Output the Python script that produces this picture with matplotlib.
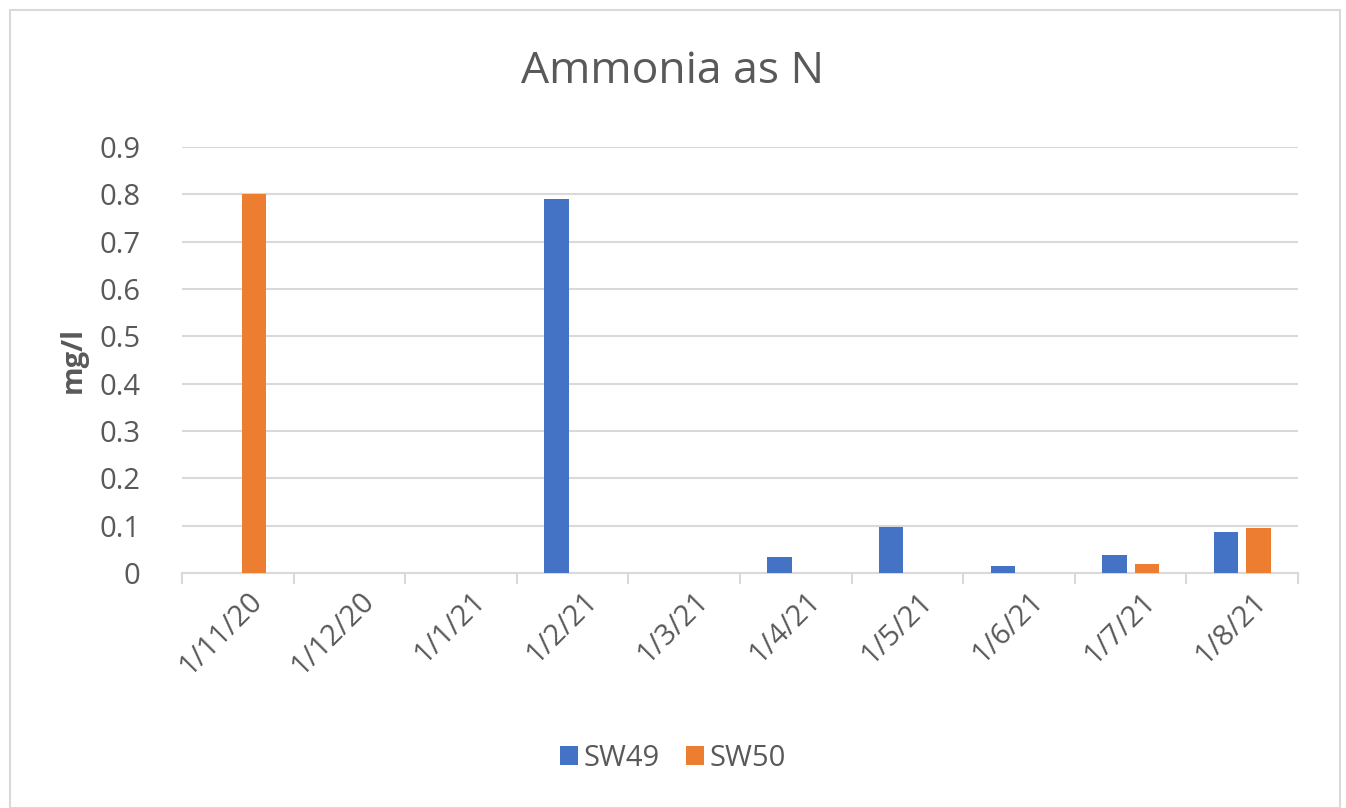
import numpy as np
import matplotlib.pyplot as plt
import matplotlib.transforms as mtransforms
from matplotlib.patches import Rectangle

plt.rcParams['font.family'] = ['Open Sans', 'DejaVu Sans']

dates = ['1/11/20', '1/12/20', '1/1/21', '1/2/21', '1/3/21',
         '1/4/21', '1/5/21', '1/6/21', '1/7/21', '1/8/21']
sw49 = [0, 0, 0, 0.79, 0, 0.033, 0.098, 0.014, 0.037, 0.087]
sw50 = [0.80, 0, 0, 0, 0, 0, 0, 0, 0.018, 0.095]

blue = '#4472C4'
orange = '#ED7D31'
grey = '#595959'

fig = plt.figure(figsize=(13.46, 8.08), dpi=100)
ax = fig.add_axes([182/1346, 1-573/808, 1116/1346, 426/808])

x = np.arange(len(dates))
w = 0.22
ax.bar(x - 0.145, sw49, w, color=blue, label='SW49', zorder=3)
ax.bar(x + 0.145, sw50, w, color=orange, label='SW50', zorder=3)

ax.set_xlim(-0.5, len(dates) - 0.5)
ax.set_ylim(0, 0.9)
ax.set_yticks(np.arange(0, 0.91, 0.1))
ax.set_yticklabels(['0'] + ['%.1f' % v for v in np.arange(0.1, 0.91, 0.1)])
ax.yaxis.grid(True, color='#D9D9D9', lw=1.5, zorder=0)
ax.tick_params(axis='y', length=0, pad=30, labelsize=21, labelcolor=grey)

ax.set_xticks(np.arange(-0.5, len(dates), 1), minor=False)
ax.set_xticklabels([])
ax.set_xticks(x, minor=True)
ax.set_xticklabels(dates, minor=True, rotation=45, ha='right', rotation_mode='anchor')
ax.tick_params(axis='x', which='major', length=8, color='#D9D9D9', width=1.5)
ax.tick_params(axis='x', which='minor', length=0, pad=10, labelsize=21, labelcolor=grey)
shift = mtransforms.ScaledTranslation(10/100, 0, fig.dpi_scale_trans)
for lab in ax.get_xticklabels(minor=True):
    lab.set_transform(lab.get_transform() + shift)

for s in ['top', 'right', 'left']:
    ax.spines[s].set_visible(False)
ax.spines['bottom'].set_color('#D9D9D9')
ax.spines['bottom'].set_linewidth(1.5)

ax.set_ylabel('mg/l', fontsize=21, fontweight='bold', color=grey, labelpad=8)
fig.text(0.5, 1-72/808, 'Ammonia as N', ha='center', va='center', fontsize=32, color=grey)

fig.legend(loc='center', bbox_to_anchor=(0.5, 1-758/808), ncol=2, frameon=False,
           fontsize=21, labelcolor=grey, handlelength=0.62, handleheight=0.62,
           columnspacing=0.9, handletextpad=0.2)

fig.patches.append(Rectangle((10/1346, 0), 1330/1346, 1-10/808, transform=fig.transFigure,
                             fill=False, edgecolor='#D9D9D9', lw=1.5))

fig.savefig('out.png', dpi=100)
